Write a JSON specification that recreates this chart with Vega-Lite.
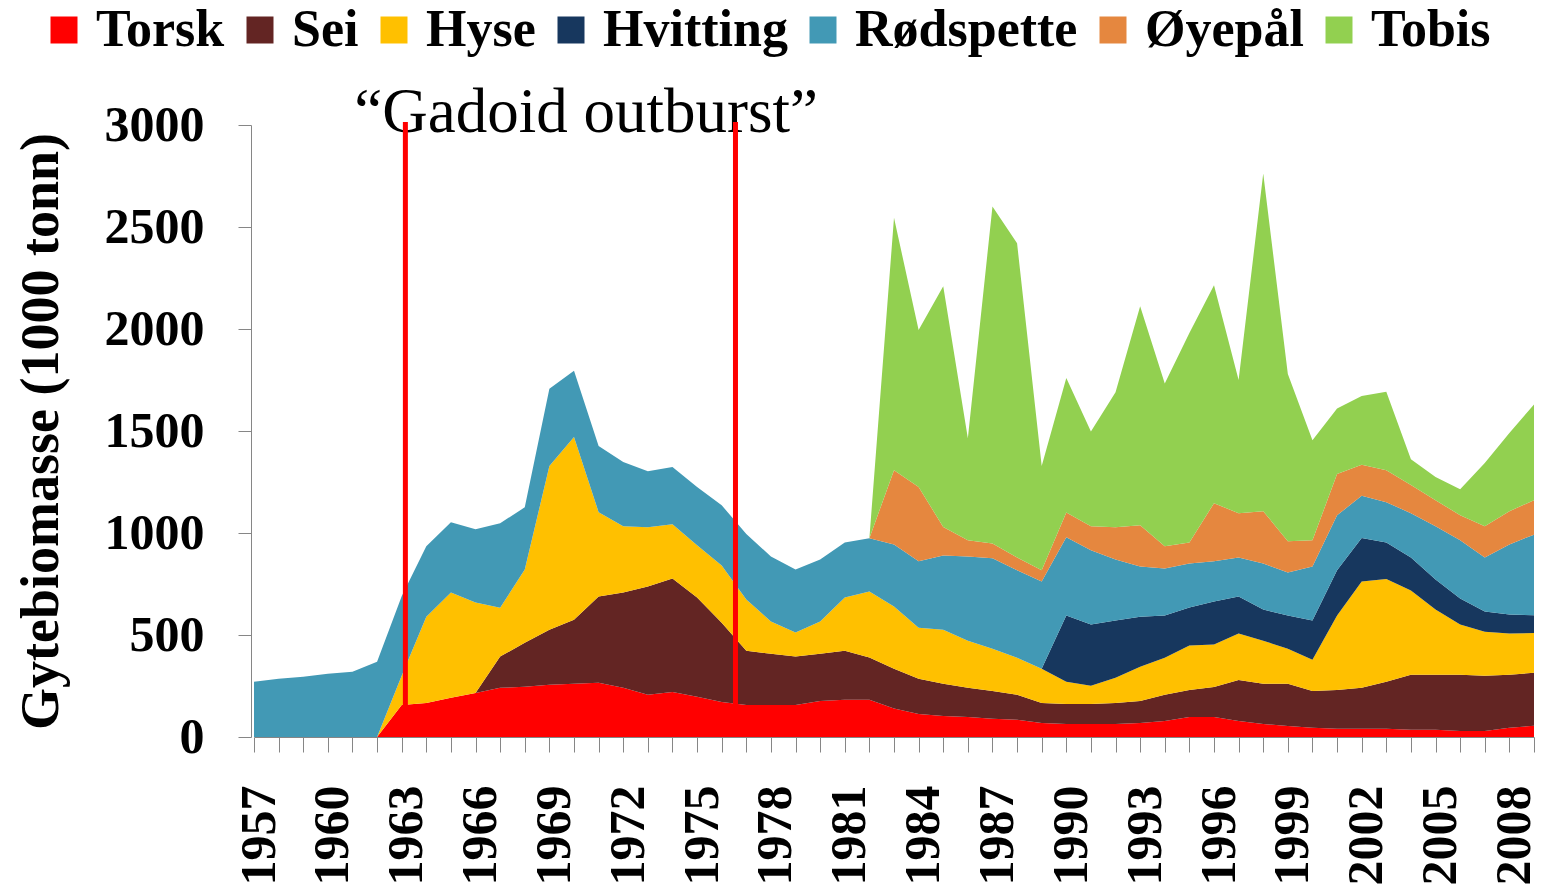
{
  "$schema": "https://vega.github.io/schema/vega-lite/v6.json",
  "width": 1280,
  "height": 612,
  "autosize": "none",
  "padding": {"left": 254, "top": 125, "right": 12, "bottom": 158},
  "background": "#ffffff",
  "config": {
    "view": {"stroke": null},
    "font": "Liberation Serif",
    "axis": {
      "labelFont": "Liberation Serif",
      "labelFontWeight": "bold",
      "labelFontSize": 50,
      "labelColor": "#000000",
      "domainColor": "#868686",
      "tickColor": "#868686",
      "grid": false,
      "titleFont": "Liberation Serif",
      "titleFontWeight": "bold",
      "titleColor": "#000000",
      "labelOverlap": false
    }
  },
  "layer": [
    {
      "data": {
        "values": [
          {"year": 1957, "Torsk": 0, "Sei": 0, "Hyse": 0, "Hvitting": 0, "Rødspette": 271, "Øyepål": 0, "Tobis": 0},
          {"year": 1958, "Torsk": 0, "Sei": 0, "Hyse": 0, "Hvitting": 0, "Rødspette": 285, "Øyepål": 0, "Tobis": 0},
          {"year": 1959, "Torsk": 0, "Sei": 0, "Hyse": 0, "Hvitting": 0, "Rødspette": 295, "Øyepål": 0, "Tobis": 0},
          {"year": 1960, "Torsk": 0, "Sei": 0, "Hyse": 0, "Hvitting": 0, "Rødspette": 310, "Øyepål": 0, "Tobis": 0},
          {"year": 1961, "Torsk": 0, "Sei": 0, "Hyse": 0, "Hvitting": 0, "Rødspette": 320, "Øyepål": 0, "Tobis": 0},
          {"year": 1962, "Torsk": 0, "Sei": 0, "Hyse": 0, "Hvitting": 0, "Rødspette": 369, "Øyepål": 0, "Tobis": 0},
          {"year": 1963, "Torsk": 157, "Sei": 0, "Hyse": 143, "Hvitting": 0, "Rødspette": 390, "Øyepål": 0, "Tobis": 0},
          {"year": 1964, "Torsk": 167, "Sei": 0, "Hyse": 423, "Hvitting": 0, "Rødspette": 345, "Øyepål": 0, "Tobis": 0},
          {"year": 1965, "Torsk": 192, "Sei": 0, "Hyse": 516, "Hvitting": 0, "Rødspette": 345, "Øyepål": 0, "Tobis": 0},
          {"year": 1966, "Torsk": 216, "Sei": 0, "Hyse": 443, "Hvitting": 0, "Rødspette": 359, "Øyepål": 0, "Tobis": 0},
          {"year": 1967, "Torsk": 241, "Sei": 153, "Hyse": 240, "Hvitting": 0, "Rødspette": 414, "Øyepål": 0, "Tobis": 0},
          {"year": 1968, "Torsk": 246, "Sei": 216, "Hyse": 359, "Hvitting": 0, "Rødspette": 305, "Øyepål": 0, "Tobis": 0},
          {"year": 1969, "Torsk": 256, "Sei": 270, "Hyse": 802, "Hvitting": 0, "Rødspette": 379, "Øyepål": 0, "Tobis": 0},
          {"year": 1970, "Torsk": 261, "Sei": 314, "Hyse": 896, "Hvitting": 0, "Rødspette": 324, "Øyepål": 0, "Tobis": 0},
          {"year": 1971, "Torsk": 266, "Sei": 423, "Hyse": 413, "Hvitting": 0, "Rødspette": 324, "Øyepål": 0, "Tobis": 0},
          {"year": 1972, "Torsk": 241, "Sei": 467, "Hyse": 325, "Hvitting": 0, "Rødspette": 315, "Øyepål": 0, "Tobis": 0},
          {"year": 1973, "Torsk": 207, "Sei": 531, "Hyse": 290, "Hvitting": 0, "Rødspette": 275, "Øyepål": 0, "Tobis": 0},
          {"year": 1974, "Torsk": 221, "Sei": 556, "Hyse": 266, "Hvitting": 0, "Rødspette": 280, "Øyepål": 0, "Tobis": 0},
          {"year": 1975, "Torsk": 197, "Sei": 487, "Hyse": 256, "Hvitting": 0, "Rødspette": 285, "Øyepål": 0, "Tobis": 0},
          {"year": 1976, "Torsk": 172, "Sei": 388, "Hyse": 281, "Hvitting": 0, "Rødspette": 295, "Øyepål": 0, "Tobis": 0},
          {"year": 1977, "Torsk": 157, "Sei": 266, "Hyse": 251, "Hvitting": 0, "Rødspette": 321, "Øyepål": 0, "Tobis": 0},
          {"year": 1978, "Torsk": 157, "Sei": 251, "Hyse": 158, "Hvitting": 0, "Rødspette": 319, "Øyepål": 0, "Tobis": 0},
          {"year": 1979, "Torsk": 157, "Sei": 237, "Hyse": 118, "Hvitting": 0, "Rødspette": 309, "Øyepål": 0, "Tobis": 0},
          {"year": 1980, "Torsk": 177, "Sei": 231, "Hyse": 158, "Hvitting": 0, "Rødspette": 304, "Øyepål": 0, "Tobis": 0},
          {"year": 1981, "Torsk": 182, "Sei": 241, "Hyse": 261, "Hvitting": 0, "Rødspette": 270, "Øyepål": 0, "Tobis": 0},
          {"year": 1982, "Torsk": 182, "Sei": 208, "Hyse": 323, "Hvitting": 0, "Rødspette": 261, "Øyepål": 0, "Tobis": 0},
          {"year": 1983, "Torsk": 140, "Sei": 194, "Hyse": 306, "Hvitting": 0, "Rødspette": 304, "Øyepål": 364, "Tobis": 1237},
          {"year": 1984, "Torsk": 113, "Sei": 172, "Hyse": 251, "Hvitting": 0, "Rødspette": 325, "Øyepål": 364, "Tobis": 770},
          {"year": 1985, "Torsk": 103, "Sei": 158, "Hyse": 265, "Hvitting": 0, "Rødspette": 364, "Øyepål": 140, "Tobis": 1180},
          {"year": 1986, "Torsk": 98, "Sei": 143, "Hyse": 231, "Hvitting": 0, "Rødspette": 413, "Øyepål": 79, "Tobis": 501},
          {"year": 1987, "Torsk": 89, "Sei": 137, "Hyse": 207, "Hvitting": 0, "Rødspette": 443, "Øyepål": 73, "Tobis": 1651},
          {"year": 1988, "Torsk": 84, "Sei": 123, "Hyse": 182, "Hvitting": 0, "Rødspette": 428, "Øyepål": 63, "Tobis": 1540},
          {"year": 1989, "Torsk": 69, "Sei": 98, "Hyse": 167, "Hvitting": 0, "Rødspette": 428, "Øyepål": 55, "Tobis": 511},
          {"year": 1990, "Torsk": 64, "Sei": 98, "Hyse": 109, "Hvitting": 324, "Rødspette": 384, "Øyepål": 121, "Tobis": 660},
          {"year": 1991, "Torsk": 64, "Sei": 98, "Hyse": 89, "Hvitting": 300, "Rødspette": 364, "Øyepål": 118, "Tobis": 465},
          {"year": 1992, "Torsk": 64, "Sei": 103, "Hyse": 123, "Hvitting": 281, "Rødspette": 299, "Øyepål": 158, "Tobis": 662},
          {"year": 1993, "Torsk": 69, "Sei": 108, "Hyse": 167, "Hvitting": 246, "Rødspette": 246, "Øyepål": 202, "Tobis": 1074},
          {"year": 1994, "Torsk": 79, "Sei": 128, "Hyse": 182, "Hvitting": 206, "Rødspette": 231, "Øyepål": 109, "Tobis": 798},
          {"year": 1995, "Torsk": 98, "Sei": 133, "Hyse": 217, "Hvitting": 187, "Rødspette": 216, "Øyepål": 103, "Tobis": 1026},
          {"year": 1996, "Torsk": 98, "Sei": 147, "Hyse": 208, "Hvitting": 211, "Rødspette": 197, "Øyepål": 285, "Tobis": 1069},
          {"year": 1997, "Torsk": 79, "Sei": 201, "Hyse": 227, "Hvitting": 182, "Rødspette": 191, "Øyepål": 217, "Tobis": 653},
          {"year": 1998, "Torsk": 64, "Sei": 197, "Hyse": 211, "Hvitting": 153, "Rødspette": 226, "Øyepål": 256, "Tobis": 1655},
          {"year": 1999, "Torsk": 54, "Sei": 207, "Hyse": 172, "Hvitting": 162, "Rødspette": 211, "Øyepål": 154, "Tobis": 820},
          {"year": 2000, "Torsk": 45, "Sei": 181, "Hyse": 153, "Hvitting": 192, "Rødspette": 265, "Øyepål": 128, "Tobis": 491},
          {"year": 2001, "Torsk": 40, "Sei": 191, "Hyse": 364, "Hvitting": 222, "Rødspette": 270, "Øyepål": 202, "Tobis": 321},
          {"year": 2002, "Torsk": 40, "Sei": 201, "Hyse": 521, "Hvitting": 213, "Rødspette": 207, "Øyepål": 153, "Tobis": 337},
          {"year": 2003, "Torsk": 40, "Sei": 231, "Hyse": 504, "Hvitting": 179, "Rødspette": 197, "Øyepål": 157, "Tobis": 384},
          {"year": 2004, "Torsk": 35, "Sei": 270, "Hyse": 413, "Hvitting": 162, "Rødspette": 217, "Øyepål": 138, "Tobis": 127},
          {"year": 2005, "Torsk": 35, "Sei": 270, "Hyse": 320, "Hvitting": 147, "Rødspette": 261, "Øyepål": 128, "Tobis": 113},
          {"year": 2006, "Torsk": 30, "Sei": 275, "Hyse": 246, "Hvitting": 128, "Rødspette": 285, "Øyepål": 123, "Tobis": 128},
          {"year": 2007, "Torsk": 30, "Sei": 270, "Hyse": 216, "Hvitting": 99, "Rødspette": 265, "Øyepål": 153, "Tobis": 310},
          {"year": 2008, "Torsk": 45, "Sei": 260, "Hyse": 202, "Hvitting": 93, "Rødspette": 344, "Øyepål": 163, "Tobis": 383},
          {"year": 2009, "Torsk": 55, "Sei": 260, "Hyse": 195, "Hvitting": 87, "Rødspette": 395, "Øyepål": 168, "Tobis": 470}
        ]
      },
      "transform": [
        {"fold": ["Torsk", "Sei", "Hyse", "Hvitting", "Rødspette", "Øyepål", "Tobis"], "as": ["art", "verdi"]},
        {"calculate": "indexof(['Torsk','Sei','Hyse','Hvitting','Rødspette','Øyepål','Tobis'], datum.art)", "as": "rekkefolge"}
      ],
      "mark": {"type": "area", "opacity": 1, "interpolate": "linear"},
      "encoding": {
        "x": {
          "field": "year",
          "type": "quantitative",
          "scale": {"domain": [1957, 2009], "nice": false, "zero": false},
          "axis": {
            "values": [1957,1958,1959,1960,1961,1962,1963,1964,1965,1966,1967,1968,1969,1970,1971,1972,1973,1974,1975,1976,1977,1978,1979,1980,1981,1982,1983,1984,1985,1986,1987,1988,1989,1990,1991,1992,1993,1994,1995,1996,1997,1998,1999,2000,2001,2002,2003,2004,2005,2006,2007,2008,2009],
            "format": "d",
            "labelExpr": "(datum.value - 1957) % 3 === 0 ? datum.label : ''",
            "labelAngle": -90,
            "labelPadding": 33,
            "labelOffset": 5,
            "tickSize": 15,
            "labelOverlap": false,
            "labelFlush": false,
            "labelBound": false,
            "title": null
          }
        },
        "y": {
          "field": "verdi",
          "type": "quantitative",
          "stack": "zero",
          "scale": {"domain": [0, 3000], "nice": false},
          "axis": {
            "values": [0, 500, 1000, 1500, 2000, 2500, 3000],
            "format": "d",
            "tickSize": 13,
            "labelPadding": 34,
            "offset": 3,
            "labelOverlap": false,
            "title": "Gytebiomasse (1000 tonn)",
            "titleFontSize": 54,
            "titlePadding": 36,
            "titleLimit": 1000
          }
        },
        "color": {
          "field": "art",
          "type": "nominal",
          "scale": {
            "domain": ["Torsk", "Sei", "Hyse", "Hvitting", "Rødspette", "Øyepål", "Tobis"],
            "range": ["#FF0000", "#632523", "#FFC000", "#17375E", "#4299B5", "#E5873F", "#92D050"]
          },
          "legend": {
            "orient": "none",
            "legendX": -216,
            "legendY": -121,
            "direction": "horizontal",
            "title": null,
            "symbolType": "square",
            "symbolSize": 729,
            "symbolStrokeWidth": 0,
            "labelFont": "Liberation Serif",
            "labelFontWeight": "bold",
            "labelFontSize": 52,
            "labelColor": "#000000",
            "labelOffset": 6,
            "labelLimit": 600,
            "columnPadding": 9
          }
        },
        "order": {"field": "rekkefolge", "type": "quantitative", "sort": "ascending"}
      }
    },
    {
      "data": {"values": [{"year": 1970.49, "v": 2966, "label": "“Gadoid outburst”"}]},
      "mark": {"type": "text", "font": "Liberation Serif", "fontSize": 63, "fontWeight": "normal", "align": "center", "baseline": "alphabetic", "color": "#000000"},
      "encoding": {
        "x": {
          "field": "year",
          "type": "quantitative",
          "scale": {"domain": [1957, 2009], "nice": false, "zero": false},
          "axis": {
            "values": [1957,1958,1959,1960,1961,1962,1963,1964,1965,1966,1967,1968,1969,1970,1971,1972,1973,1974,1975,1976,1977,1978,1979,1980,1981,1982,1983,1984,1985,1986,1987,1988,1989,1990,1991,1992,1993,1994,1995,1996,1997,1998,1999,2000,2001,2002,2003,2004,2005,2006,2007,2008,2009],
            "format": "d",
            "labelExpr": "(datum.value - 1957) % 3 === 0 ? datum.label : ''",
            "labelAngle": -90,
            "labelPadding": 33,
            "labelOffset": 5,
            "tickSize": 15,
            "labelOverlap": false,
            "labelFlush": false,
            "labelBound": false,
            "title": null
          }
        },
        "y": {
          "field": "v",
          "type": "quantitative",
          "scale": {"domain": [0, 3000], "nice": false},
          "axis": {
            "values": [0, 500, 1000, 1500, 2000, 2500, 3000],
            "format": "d",
            "tickSize": 13,
            "labelPadding": 34,
            "offset": 3,
            "labelOverlap": false,
            "title": "Gytebiomasse (1000 tonn)",
            "titleFontSize": 54,
            "titlePadding": 36,
            "titleLimit": 1000
          }
        },
        "text": {"field": "label"}
      }
    },
    {
      "data": {"values": [{"year": 1963.15, "lo": 0, "hi": 3015}, {"year": 1976.56, "lo": 0, "hi": 3015}]},
      "mark": {"type": "rule", "color": "#FF0000", "strokeWidth": 5},
      "encoding": {
        "x": {
          "field": "year",
          "type": "quantitative",
          "scale": {"domain": [1957, 2009], "nice": false, "zero": false},
          "axis": {
            "values": [1957,1958,1959,1960,1961,1962,1963,1964,1965,1966,1967,1968,1969,1970,1971,1972,1973,1974,1975,1976,1977,1978,1979,1980,1981,1982,1983,1984,1985,1986,1987,1988,1989,1990,1991,1992,1993,1994,1995,1996,1997,1998,1999,2000,2001,2002,2003,2004,2005,2006,2007,2008,2009],
            "format": "d",
            "labelExpr": "(datum.value - 1957) % 3 === 0 ? datum.label : ''",
            "labelAngle": -90,
            "labelPadding": 33,
            "labelOffset": 5,
            "tickSize": 15,
            "labelOverlap": false,
            "labelFlush": false,
            "labelBound": false,
            "title": null
          }
        },
        "y": {
          "field": "lo",
          "type": "quantitative",
          "scale": {"domain": [0, 3000], "nice": false},
          "axis": {
            "values": [0, 500, 1000, 1500, 2000, 2500, 3000],
            "format": "d",
            "tickSize": 13,
            "labelPadding": 34,
            "offset": 3,
            "labelOverlap": false,
            "title": "Gytebiomasse (1000 tonn)",
            "titleFontSize": 54,
            "titlePadding": 36,
            "titleLimit": 1000
          }
        },
        "y2": {"field": "hi"}
      }
    }
  ]
}
